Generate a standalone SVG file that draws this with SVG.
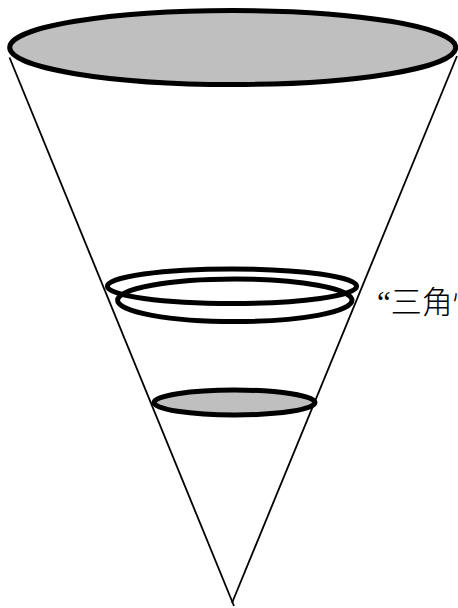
<svg xmlns="http://www.w3.org/2000/svg" width="458" height="608" viewBox="0 0 458 608">
<style>
.r{stroke:#000;stroke-width:5}
.g{fill:#bfbfbf}
.n{fill:none}
.c{stroke:#000;stroke-width:1.8;fill:none}
text{font-family:"Liberation Serif","Noto Sans CJK SC",serif;font-size:31px;font-weight:300;fill:#000}
</style>
<rect width="458" height="608" fill="#fff"/>
<g id="connectors">
<line class="c" x1="9.5" y1="57.5" x2="234" y2="606"/>
<line class="c" x1="457" y1="56" x2="232" y2="603"/>
</g>
<g id="top-ellipse"><ellipse class="r g" cx="232.7" cy="47.5" rx="223" ry="37"/></g>
<g id="ring-upper"><ellipse class="r n" cx="232" cy="286.3" rx="124.6" ry="17.3"/></g>
<g id="ring-lower"><ellipse class="r n" cx="234.8" cy="300.3" rx="117.2" ry="21.3"/></g>
<g id="bottom-ellipse"><ellipse class="r g" cx="234.5" cy="402.5" rx="80.5" ry="12.5"/></g>
<g id="label"><text x="377" y="313">“三角恒</text></g>
</svg>
